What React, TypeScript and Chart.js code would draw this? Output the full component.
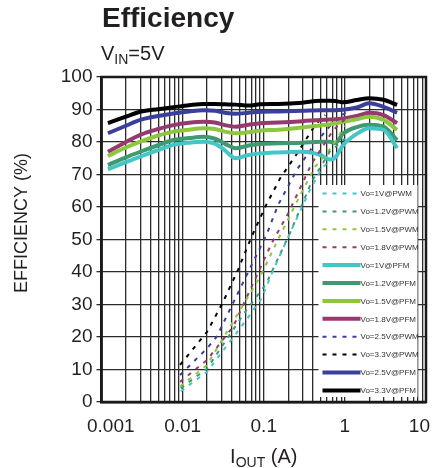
import React, { useEffect, useRef } from "react";
import { Chart, registerables } from "chart.js";

Chart.register(...registerables);

const FONT = "'Liberation Sans', Arial, Helvetica, sans-serif";
const TEXT_COLOR = "#231f20";
const GRID_COLOR = "#2b2b2b";

const TITLE = "Efficiency";
const SUBTITLE_MAIN = "V";
const SUBTITLE_SUB = "IN";
const SUBTITLE_REST = "=5V";
const Y_TITLE = "EFFICIENCY (%)";
const X_TITLE_MAIN = "I";
const X_TITLE_SUB = "OUT";
const X_TITLE_REST = " (A)";

const X_MAJOR = [0.001, 0.01, 0.1, 1, 10];
const X_MAJOR_LABELS = ["0.001", "0.01", "0.1", "1", "10"];
const Y_MIN = 0;
const Y_MAX = 100;
const Y_STEP = 10;

// PFM (solid) curves
const PFM_IOUT = [0.0012, 0.002, 0.003, 0.005, 0.0077, 0.012, 0.018, 0.025, 0.033, 0.045, 0.065, 0.09, 0.15, 0.3, 0.5, 0.65, 0.76, 0.95, 1.4, 2.0, 3.0, 4.4];
const PFM_1V = [71.6, 73.8, 75.5, 77.5, 79.1, 79.8, 80.1, 79.5, 77.5, 75.0, 76.0, 76.5, 76.8, 77.0, 76.0, 74.6, 75.2, 79.0, 82.5, 84.2, 83.7, 78.1];
const PFM_1V2 = [72.9, 75.3, 77.0, 79.0, 80.6, 81.2, 81.6, 81.0, 79.5, 78.1, 78.9, 79.4, 79.6, 79.8, 80.1, 80.1, 79.7, 82.6, 84.6, 85.3, 84.7, 80.6];
const PFM_1V5 = [75.7, 78.3, 80.1, 82.0, 83.2, 83.8, 84.2, 84.0, 83.2, 82.7, 83.0, 83.5, 83.8, 84.5, 85.1, 85.4, 85.7, 86.2, 87.0, 87.8, 86.8, 83.7];
const PFM_1V8 = [77.0, 80.0, 82.2, 84.0, 85.2, 85.9, 86.2, 86.0, 85.2, 84.7, 85.3, 85.8, 86.0, 86.4, 86.8, 86.9, 87.0, 87.2, 88.0, 89.0, 88.3, 85.8];
const PFM_2V5 = [82.7, 85.0, 86.8, 88.0, 88.8, 89.4, 89.8, 89.6, 89.0, 88.7, 89.0, 89.3, 89.4, 89.6, 89.8, 89.8, 89.8, 89.9, 90.6, 91.9, 90.8, 89.0];
const PFM_3V3 = [85.8, 87.8, 89.3, 90.1, 90.7, 91.3, 91.7, 91.7, 91.6, 91.5, 91.2, 91.6, 91.7, 92.1, 92.7, 92.7, 92.6, 92.2, 92.9, 93.5, 93.0, 91.4];

// PWM (dashed) curves
const PWM_1V_IOUT = [0.0095, 0.02, 0.06, 0.094, 0.131, 0.184, 0.37, 0.52, 0.7];
const PWM_1V = [3.3, 9.3, 25.0, 31.9, 40.6, 48.8, 65.2, 71.9, 75.0];
const PWM_1V2_IOUT = [0.0095, 0.02, 0.06, 0.108, 0.15, 0.21, 0.39, 0.65, 1.0];
const PWM_1V2 = [4.2, 10.3, 28.0, 36.5, 44.2, 51.9, 67.8, 77.0, 81.0];
const PWM_1V5_IOUT = [0.0093, 0.02, 0.051, 0.09, 0.15, 0.3, 0.43, 0.69, 1.0];
const PWM_1V5 = [4.8, 11.4, 28.3, 38.5, 50.0, 65.0, 72.4, 78.5, 85.0];
const PWM_1V8_IOUT = [0.0093, 0.02, 0.042, 0.125, 0.2, 0.39, 0.72, 1.0];
const PWM_1V8 = [6.2, 12.9, 23.2, 48.8, 58.0, 73.4, 83.7, 87.0];
const PWM_2V5_IOUT = [0.0093, 0.02, 0.0263, 0.071, 0.108, 0.15, 0.255, 0.43, 0.76, 1.06];
const PWM_2V5 = [8.3, 16.5, 20.1, 42.2, 51.4, 60.6, 71.4, 79.6, 86.8, 89.3];
const PWM_3V3_IOUT = [0.0093, 0.02, 0.031, 0.048, 0.071, 0.104, 0.159, 0.25, 0.43, 0.57];
const PWM_3V3 = [11.4, 21.6, 30.4, 40.6, 50.9, 60.0, 68.8, 76.0, 85.2, 88.3];

const C_1V = "#45c5c6";
const C_1V2 = "#3d9a71";
const C_1V5 = "#8dc63f";
const C_1V8 = "#97396f";
const C_2V5 = "#3a3f9c";
const C_3V3 = "#000000";

const DASH = [4, 6];

function toPoints(xs: number[], ys: number[]) {
  return xs.map((x, i) => ({ x, y: ys[i] }));
}

function dashed(label: string, xs: number[], ys: number[], color: string) {
  return {
    label,
    data: toPoints(xs, ys),
    borderColor: color,
    backgroundColor: color,
    borderWidth: 2,
    borderDash: DASH,
    pointRadius: 0,
    tension: 0,
    fill: false,
  };
}

function solid(label: string, xs: number[], ys: number[], color: string) {
  return {
    label,
    data: toPoints(xs, ys),
    borderColor: color,
    backgroundColor: color,
    borderWidth: 4,
    pointRadius: 0,
    cubicInterpolationMode: "monotone" as const,
    fill: false,
  };
}

function gridValues(): number[] {
  const out: number[] = [];
  for (let k = -3; k <= 0; k++) {
    for (let m = 1; m <= 9; m++) out.push(parseFloat((m * Math.pow(10, k)).toPrecision(3)));
  }
  out.push(10);
  return out;
}

const legendPlugin = {
  id: "insideLegend",
  afterDatasetsDraw(chart: any) {
    const ctx = chart.ctx as CanvasRenderingContext2D;
    const ca = chart.chartArea;
    const boxL = ca.left + 217;
    const boxR = ca.left + 316;
    const boxT = ca.top + 108;
    const boxB = ca.bottom - 5;
    ctx.save();
    ctx.fillStyle = "#ffffff";
    ctx.fillRect(boxL, boxT, boxR - boxL, boxB - boxT);
    const ds = chart.data.datasets;
    const rowH = 17.9;
    const y0 = boxT + 8.5;
    ds.forEach((d: any, i: number) => {
      const y = y0 + i * rowH;
      ctx.beginPath();
      ctx.strokeStyle = d.borderColor;
      ctx.lineWidth = d.borderWidth;
      ctx.setLineDash(d.borderDash || []);
      ctx.moveTo(boxL + 4, y);
      ctx.lineTo(boxL + 42, y);
      ctx.stroke();
      ctx.setLineDash([]);
      ctx.fillStyle = "#333333";
      ctx.font = `8px ${FONT}`;
      ctx.textBaseline = "middle";
      ctx.textAlign = "left";
      ctx.fillText(d.label, boxL + 42, y + 0.5);
    });
    ctx.restore();
  },
};

const framePlugin = {
  id: "frameAndTexts",
  afterDraw(chart: any) {
    const ctx = chart.ctx as CanvasRenderingContext2D;
    const ca = chart.chartArea;
    ctx.save();
    ctx.strokeStyle = "#1a1a1a";
    ctx.lineWidth = 2.5;
    ctx.strokeRect(ca.left, ca.top, ca.right - ca.left, ca.bottom - ca.top);

    ctx.fillStyle = TEXT_COLOR;
    ctx.textAlign = "left";
    ctx.textBaseline = "alphabetic";
    ctx.font = `bold 28px ${FONT}`;
    ctx.fillText(TITLE, 102, 27);

    let x = 101;
    ctx.font = `20px ${FONT}`;
    ctx.fillText(SUBTITLE_MAIN, x, 60);
    x += ctx.measureText(SUBTITLE_MAIN).width;
    ctx.font = `14px ${FONT}`;
    ctx.fillText(SUBTITLE_SUB, x, 64);
    x += ctx.measureText(SUBTITLE_SUB).width;
    ctx.font = `20px ${FONT}`;
    ctx.fillText(SUBTITLE_REST, x, 60);

    // x tick labels (kept inside the canvas like the reference)
    const xs = chart.scales.x;
    ctx.font = `19px ${FONT}`;
    ctx.textBaseline = "alphabetic";
    X_MAJOR.forEach((v, i) => {
      const label = X_MAJOR_LABELS[i];
      const w = ctx.measureText(label).width;
      let cx = xs.getPixelForValue(v);
      cx = Math.max(cx, 87 + w / 2);
      cx = Math.min(cx, 430 - w / 2);
      ctx.textAlign = "center";
      ctx.fillText(label, cx, ca.bottom + 30);
    });
    ctx.textAlign = "left";

    // x title
    ctx.font = `20px ${FONT}`;
    const w1 = ctx.measureText(X_TITLE_MAIN).width;
    const w3 = ctx.measureText(X_TITLE_REST).width;
    ctx.font = `14px ${FONT}`;
    const w2 = ctx.measureText(X_TITLE_SUB).width;
    let tx = (ca.left + ca.right) / 2 - (w1 + w2 + w3) / 2;
    ctx.font = `20px ${FONT}`;
    ctx.fillText(X_TITLE_MAIN, tx, 463);
    tx += w1;
    ctx.font = `14px ${FONT}`;
    ctx.fillText(X_TITLE_SUB, tx, 467);
    tx += w2;
    ctx.font = `20px ${FONT}`;
    ctx.fillText(X_TITLE_REST, tx, 463);

    // y title
    ctx.translate(22, 223);
    ctx.rotate(-Math.PI / 2);
    ctx.textAlign = "center";
    ctx.textBaseline = "middle";
    ctx.font = `18px ${FONT}`;
    ctx.fillText(Y_TITLE, 0, 0);
    ctx.restore();
  },
};

export default function App() {
  const ref = useRef<HTMLCanvasElement | null>(null);

  useEffect(() => {
    document.body.style.margin = "0";
    if (!ref.current) return;
    const grid = gridValues();
    const chart = new Chart(ref.current, {
      type: "line",
      data: {
        datasets: [
          dashed("Vo=1V@PWM", PWM_1V_IOUT, PWM_1V, C_1V),
          dashed("Vo=1.2V@PWM", PWM_1V2_IOUT, PWM_1V2, C_1V2),
          dashed("Vo=1.5V@PWM", PWM_1V5_IOUT, PWM_1V5, C_1V5),
          dashed("Vo=1.8V@PWM", PWM_1V8_IOUT, PWM_1V8, C_1V8),
          solid("Vo=1V@PFM", PFM_IOUT, PFM_1V, C_1V),
          solid("Vo=1.2V@PFM", PFM_IOUT, PFM_1V2, C_1V2),
          solid("Vo=1.5V@PFM", PFM_IOUT, PFM_1V5, C_1V5),
          solid("Vo=1.8V@PFM", PFM_IOUT, PFM_1V8, C_1V8),
          dashed("Vo=2.5V@PWM", PWM_2V5_IOUT, PWM_2V5, C_2V5),
          dashed("Vo=3.3V@PWM", PWM_3V3_IOUT, PWM_3V3, C_3V3),
          solid("Vo=2.5V@PFM", PFM_IOUT, PFM_2V5, C_2V5),
          solid("Vo=3.3V@PFM", PFM_IOUT, PFM_3V3, C_3V3),
        ] as any,
      },
      options: {
        animation: false,
        responsive: true,
        maintainAspectRatio: false,
        layout: { padding: { top: 77, right: 8, left: 0, bottom: 0 } },
        plugins: {
          legend: { display: false },
          tooltip: { enabled: false },
          title: { display: false },
        },
        scales: {
          x: {
            type: "logarithmic",
            min: X_MAJOR[0],
            max: X_MAJOR[X_MAJOR.length - 1],
            afterBuildTicks: (scale: any) => {
              scale.ticks = grid.map((v) => ({ value: v }));
            },
            afterFit: (scale: any) => {
              scale.height = 66;
              scale.paddingLeft = 0;
              scale.paddingRight = 0;
            },
            ticks: {
              autoSkip: false,
              maxRotation: 0,
              minRotation: 0,
              display: false,
            },
            grid: { color: GRID_COLOR, lineWidth: 1.3, drawTicks: false },
            border: { color: "#1a1a1a", width: 2.5 },
          },
          y: {
            type: "linear",
            min: Y_MIN,
            max: Y_MAX,
            afterFit: (scale: any) => {
              scale.width = 101.5;
            },
            ticks: {
              stepSize: Y_STEP,
              padding: 4,
              color: TEXT_COLOR,
              font: { family: FONT, size: 19 },
            },
            grid: { color: GRID_COLOR, lineWidth: 1.3, tickLength: 5, drawTicks: true },
            border: { color: "#1a1a1a", width: 2.5 },
          },
        },
      } as any,
      plugins: [legendPlugin, framePlugin],
    });
    return () => chart.destroy();
  }, []);

  return (
    <div style={{ width: 434, height: 468, position: "relative" }}>
      <canvas ref={ref} />
    </div>
  );
}
